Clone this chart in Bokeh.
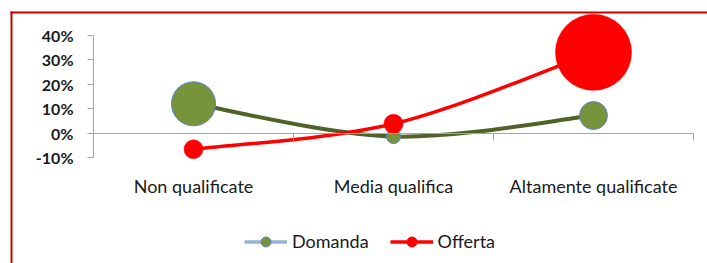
from bokeh.plotting import figure
from bokeh.models import (FixedTicker, LinearAxis, Range1d, BoxAnnotation, Legend,
                          LegendItem, ColumnDataSource, NumeralTickFormatter,
                          CustomJSTickFormatter)
from bokeh.embed import file_html
from bokeh.resources import INLINE
import math

# ---- data ----
categorie = ["Non qualificate", "Media qualifica", "Altamente qualificate"]
domanda = [0.12, -0.014, 0.072]
offerta = [-0.066, 0.038, 0.331]
# bubble weights (area-proportional)
peso_domanda = [19.4, 2.0, 7.8]
peso_offerta = [3.6, 3.7, 58.0]
y_ticks = [-0.1, 0.0, 0.1, 0.2, 0.3, 0.4]

# ---- derived positions ----
xs = [i + 0.5 for i in range(len(categorie))]
bounds_x = [float(i) for i in range(len(categorie) + 1)]
BUBBLE_K = 10.0
NAN = float("nan")


def bezier_segments(x, y, t=1.0 / 6.0):
    n = len(x)
    out = dict(x0=[], y0=[], x1=[], y1=[], cx0=[], cy0=[], cx1=[], cy1=[])
    for i in range(n - 1):
        ip = max(i - 1, 0)
        i2 = min(i + 2, n - 1)
        out["x0"].append(x[i]); out["y0"].append(y[i])
        out["x1"].append(x[i + 1]); out["y1"].append(y[i + 1])
        out["cx0"].append(x[i] + (x[i + 1] - x[ip]) * t)
        out["cy0"].append(y[i] + (y[i + 1] - y[ip]) * t)
        out["cx1"].append(x[i + 1] - (x[i2] - x[i]) * t)
        out["cy1"].append(y[i + 1] - (y[i2] - y[i]) * t)
    return ColumnDataSource(out)


W, H = 707, 263
p = figure(width=W, height=H, output_backend="svg", toolbar_location=None,
           x_range=Range1d(-0.465, 3.07), y_range=Range1d(-0.5344, 0.5434),
           x_axis_type=None, y_axis_type=None,
           min_border_left=0, min_border_right=0, min_border_top=0, min_border_bottom=0)
p.outline_line_color = None
p.background_fill_color = "white"
p.border_fill_color = "white"

# red border (left and top edges; the rest runs off the picture)
# screen units: x from the left, y from the bottom of the frame
BORDER = "#c80000"
for l, r, t, b in [(10, 12, H - 11, 0), (10, W, H - 11, H - 13)]:
    p.add_layout(BoxAnnotation(left=l, right=r, top=t, bottom=b,
                               left_units="screen", right_units="screen",
                               top_units="screen", bottom_units="screen",
                               fill_color=BORDER, fill_alpha=1, line_color=None,
                               level="underlay"))

AX = "#a6a6a6"
yaxis = LinearAxis(fixed_location=0, ticker=FixedTicker(ticks=y_ticks),
                   bounds=(min(y_ticks), max(y_ticks)),
                   formatter=NumeralTickFormatter(format="0%"))
yaxis.axis_line_color = AX
yaxis.major_tick_line_color = AX
yaxis.minor_tick_line_color = None
yaxis.major_tick_out = 6
yaxis.major_tick_in = 0
yaxis.major_label_standoff = 14
yaxis.major_label_text_font = "Lato"
yaxis.major_label_text_font_style = "bold"
yaxis.major_label_text_font_size = "16px"
yaxis.major_label_text_color = "#1a1a1a"
p.add_layout(yaxis, "left")

xaxis = LinearAxis(fixed_location=0, ticker=FixedTicker(ticks=bounds_x),
                   bounds=(bounds_x[0], bounds_x[-1]))
xaxis.axis_line_color = AX
xaxis.major_tick_line_color = AX
xaxis.minor_tick_line_color = None
xaxis.major_tick_out = 7
xaxis.major_tick_in = 0
xaxis.major_label_text_color = None
xaxis.major_label_text_font_size = "1px"
p.add_layout(xaxis, "below")

cat_axis = LinearAxis(fixed_location=-0.1615, ticker=FixedTicker(ticks=xs),
                      formatter=CustomJSTickFormatter(args=dict(cats=categorie),
                                                      code="return cats[Math.floor(tick)] || ''"))
cat_axis.axis_line_color = None
cat_axis.major_tick_line_color = None
cat_axis.minor_tick_line_color = None
cat_axis.major_tick_out = 0
cat_axis.major_tick_in = 0
cat_axis.major_label_standoff = 2
cat_axis.major_label_text_font = "Lato"
cat_axis.major_label_text_font_size = "18px"
cat_axis.major_label_text_color = "#1a1a1a"
p.add_layout(cat_axis, "below")

GREEN_LINE = "#4f6228"
GREEN_FILL = "#77933c"
GREEN_EDGE = "#5b85bf"
RED = "#ff0000"

p.bezier(x0="x0", y0="y0", x1="x1", y1="y1", cx0="cx0", cy0="cy0", cx1="cx1", cy1="cy1",
         source=bezier_segments(xs, domanda), line_color=GREEN_LINE, line_width=4)
p.scatter(x=xs, y=domanda, size=[BUBBLE_K * math.sqrt(v) for v in peso_domanda],
          fill_color=GREEN_FILL, line_color=GREEN_EDGE, line_width=1)
p.bezier(x0="x0", y0="y0", x1="x1", y1="y1", cx0="cx0", cy0="cy0", cx1="cx1", cy1="cy1",
         source=bezier_segments(xs, offerta), line_color=RED, line_width=3.5)
p.scatter(x=xs, y=offerta, size=[BUBBLE_K * math.sqrt(v) for v in peso_offerta],
          fill_color=RED, line_color=RED, line_width=0.5)

# legend glyphs (renderers that draw nothing in the plot)
d_line = p.line(x=[NAN], y=[NAN], line_color="#95b3d7", line_width=3.5)
d_mark = p.scatter(x=[NAN], y=[NAN], fill_color=GREEN_FILL, line_color=GREEN_EDGE, line_width=1)
o_line = p.line(x=[NAN], y=[NAN], line_color=RED, line_width=3.5)
o_mark = p.scatter(x=[NAN], y=[NAN], fill_color=RED, line_color=RED)

legend = Legend(items=[LegendItem(label="Domanda", renderers=[d_line, d_mark]),
                       LegendItem(label="Offerta", renderers=[o_line, o_mark])],
                orientation="horizontal", location=(244, 9.5),
                glyph_width=43, glyph_height=25, label_standoff=5, spacing=21,
                padding=0, margin=0, border_line_color=None, background_fill_alpha=0,
                label_text_font="Lato", label_text_font_size="18px",
                label_text_color="#1a1a1a")
p.add_layout(legend)

open("out.html", "w").write(file_html(p, INLINE))
